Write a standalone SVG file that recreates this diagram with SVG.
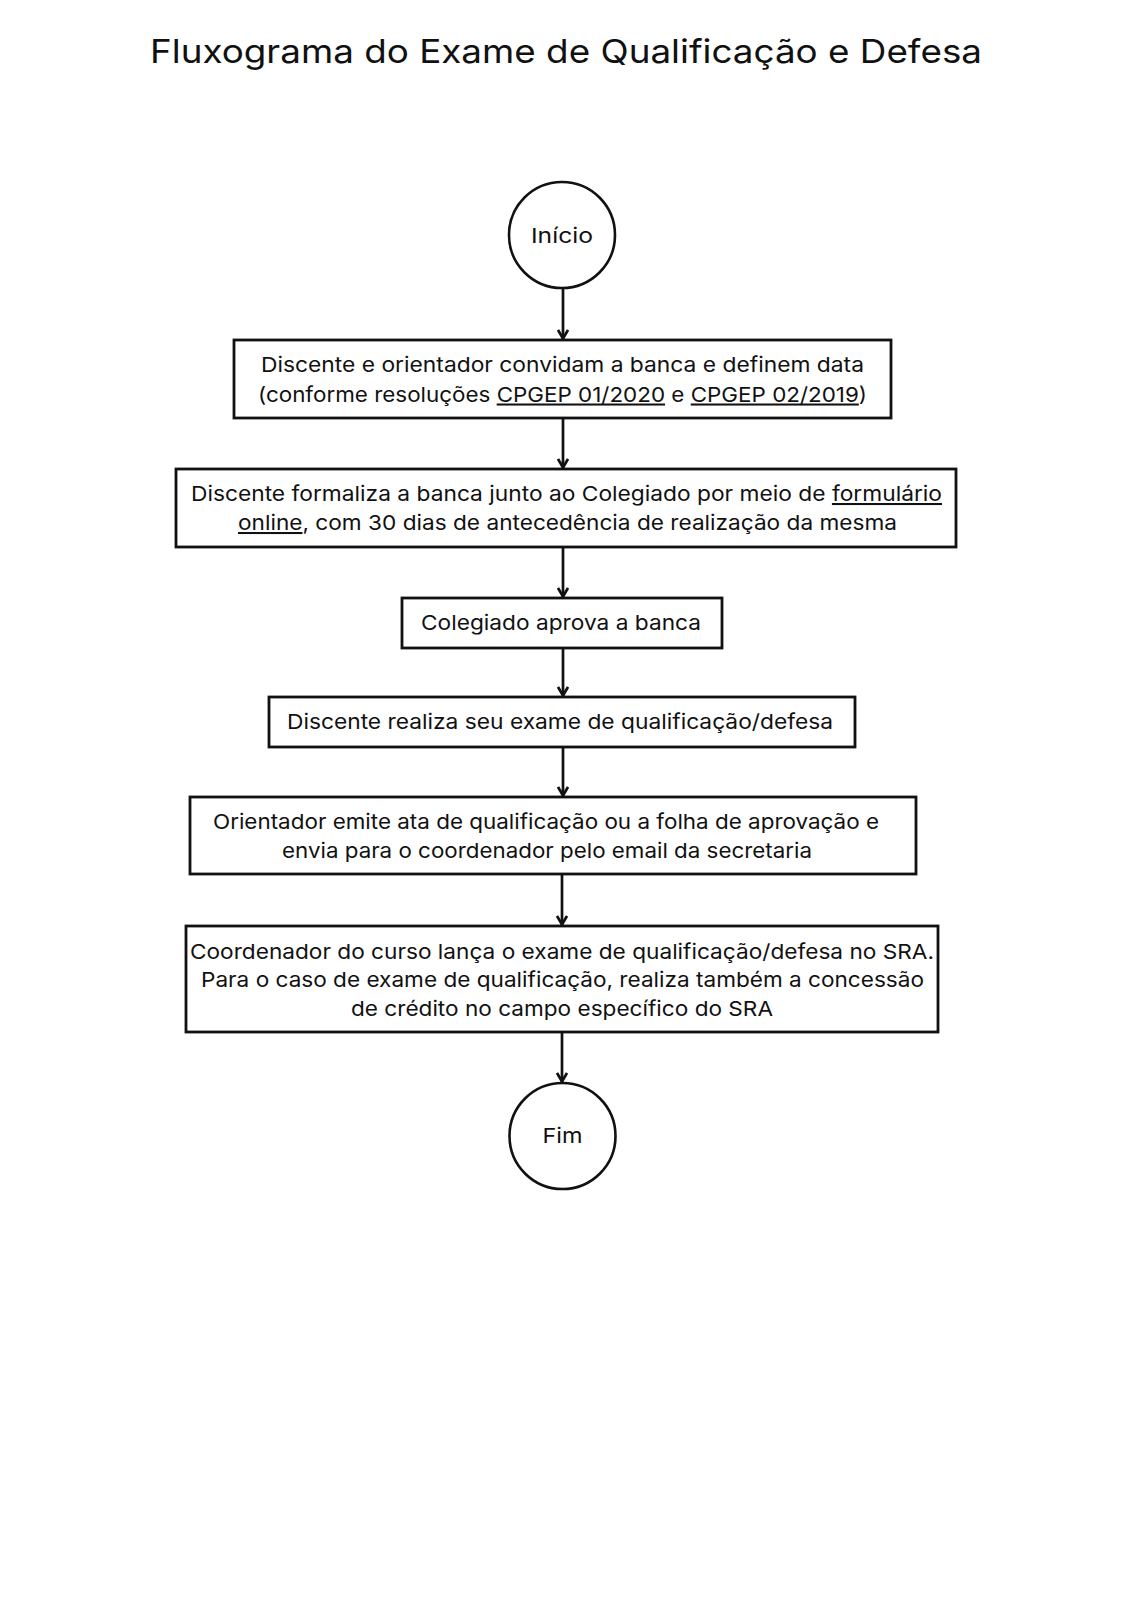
<svg xmlns="http://www.w3.org/2000/svg" width="1131" height="1600" viewBox="0 0 1131 1600">
<style>
.t{font-family:Inter,"Noto Sans","Liberation Sans",sans-serif;font-size:20.5px;fill:#111;text-anchor:middle}
.title{font-family:Inter,"Noto Sans","Liberation Sans",sans-serif;font-size:33px;fill:#111;text-anchor:middle}
.box{fill:#fff;stroke:#111;stroke-width:2.8}
.circ{fill:#fff;stroke:#111;stroke-width:2.6}
.u{text-decoration:underline}
.edge{stroke:#111;stroke-width:2.7;fill:none}
</style>
<defs>
<marker id="arr" viewBox="0 0 12 12" refX="11" refY="6" markerWidth="12" markerHeight="12" markerUnits="userSpaceOnUse" orient="auto">
<path d="M2,1 L10.5,6 L2,11" fill="none" stroke="#111" stroke-width="2.7" stroke-linejoin="miter"/>
</marker>
</defs>
<rect width="1131" height="1600" fill="#fff"/>
<text class="title" x="566" y="63" textLength="832" lengthAdjust="spacingAndGlyphs">Fluxograma do Exame de Qualificação e Defesa</text>
<g id="connectors">
<line class="edge" x1="563" y1="288" x2="563" y2="339" marker-end="url(#arr)"/>
<line class="edge" x1="563" y1="418" x2="563" y2="468" marker-end="url(#arr)"/>
<line class="edge" x1="563" y1="547" x2="563" y2="597" marker-end="url(#arr)"/>
<line class="edge" x1="563" y1="648" x2="563" y2="696" marker-end="url(#arr)"/>
<line class="edge" x1="563" y1="747" x2="563" y2="796" marker-end="url(#arr)"/>
<line class="edge" x1="562" y1="874" x2="562" y2="925" marker-end="url(#arr)"/>
<line class="edge" x1="562" y1="1032" x2="562" y2="1082" marker-end="url(#arr)"/>
</g>
<g id="inicio">
<circle class="circ" cx="562" cy="235" r="53"/>
<text class="t" x="562" y="243" textLength="62" lengthAdjust="spacingAndGlyphs">Início</text>
</g>
<g id="step1">
<rect class="box" x="234" y="340" width="657" height="78"/>
<text class="t" x="562.5" y="372" textLength="603" lengthAdjust="spacingAndGlyphs">Discente e orientador convidam a banca e definem data</text>
<text class="t" x="562.5" y="401.5" textLength="609" lengthAdjust="spacingAndGlyphs">(conforme resoluções <tspan class="u">CPGEP 01/2020</tspan> e <tspan class="u">CPGEP 02/2019</tspan>)</text>
</g>
<g id="step2">
<rect class="box" x="176" y="469" width="780" height="78"/>
<text class="t" x="566.5" y="501" textLength="751" lengthAdjust="spacingAndGlyphs">Discente formaliza a banca junto ao Colegiado por meio de <tspan class="u">formulário</tspan></text>
<text class="t" x="567.5" y="530" textLength="659" lengthAdjust="spacingAndGlyphs"><tspan class="u">online</tspan>, com 30 dias de antecedência de realização da mesma</text>
</g>
<g id="step3">
<rect class="box" x="402" y="598" width="320" height="50"/>
<text class="t" x="561" y="630" textLength="280" lengthAdjust="spacingAndGlyphs">Colegiado aprova a banca</text>
</g>
<g id="step4">
<rect class="box" x="269" y="697" width="586" height="50"/>
<text class="t" x="560" y="729" textLength="546" lengthAdjust="spacingAndGlyphs">Discente realiza seu exame de qualificação/defesa</text>
</g>
<g id="step5">
<rect class="box" x="190" y="797" width="726" height="77"/>
<text class="t" x="546" y="828.5" textLength="666" lengthAdjust="spacingAndGlyphs">Orientador emite ata de qualificação ou a folha de aprovação e</text>
<text class="t" x="547" y="857.5" textLength="530" lengthAdjust="spacingAndGlyphs">envia para o coordenador pelo email da secretaria</text>
</g>
<g id="step6">
<rect class="box" x="186" y="926" width="752" height="106"/>
<text class="t" x="562" y="958.5" textLength="744" lengthAdjust="spacingAndGlyphs">Coordenador do curso lança o exame de qualificação/defesa no SRA.</text>
<text class="t" x="562.5" y="987" textLength="723" lengthAdjust="spacingAndGlyphs">Para o caso de exame de qualificação, realiza também a concessão</text>
<text class="t" x="562" y="1015.5" textLength="422" lengthAdjust="spacingAndGlyphs">de crédito no campo específico do SRA</text>
</g>
<g id="fim">
<circle class="circ" cx="562.5" cy="1136" r="53"/>
<text class="t" x="562.5" y="1143" textLength="40" lengthAdjust="spacingAndGlyphs">Fim</text>
</g>
</svg>
